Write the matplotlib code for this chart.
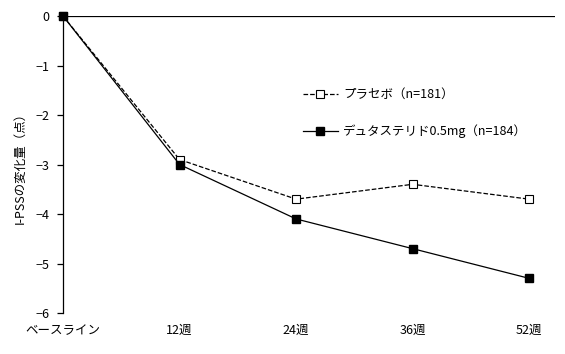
import matplotlib.pyplot as plt

plt.rcParams['font.family'] = ['Noto Sans CJK JP', 'DejaVu Sans']

# データ
timepoints = ['ベースライン', '12週', '24週', '36週', '52週']
placebo = [0, -2.9, -3.7, -3.4, -3.7]
dutasteride = [0, -3.0, -4.1, -4.7, -5.3]
placebo_label = 'プラセボ（n=181）'
duta_label = 'デュタステリド0.5mg（n=184）'
yticks = [0, -1, -2, -3, -4, -5, -6]

fig = plt.figure(figsize=(5.65, 3.54), dpi=100)
ax = fig.add_axes([0.1115, 0.1158, 0.8705, 0.839])

x = list(range(len(timepoints)))
ax.axhline(0, color='black', linewidth=0.9, zorder=1)
ax.plot(x, placebo, color='black', linestyle='--', linewidth=0.9,
        marker='s', markersize=6, markerfacecolor='white', markeredgecolor='black',
        markeredgewidth=0.8, label=placebo_label, zorder=3, clip_on=False)
ax.plot(x, dutasteride, color='black', linestyle='-', linewidth=0.9,
        marker='s', markersize=6, markerfacecolor='black', markeredgecolor='black',
        label=duta_label, zorder=4, clip_on=False)

ax.set_xlim(0, 4.22)
ax.set_ylim(-6, 0)
ax.set_yticks(yticks)
ax.set_yticklabels(['0', '−1', '−2', '−3', '−4', '−5', '−6'])
ax.set_xticks(x)
ax.set_xticklabels(timepoints)
ax.tick_params(axis='x', length=0, pad=8, labelsize=9)
ax.tick_params(axis='y', direction='out', length=4, width=0.9, labelsize=9, pad=6)

for s in ['top', 'right', 'bottom']:
    ax.spines[s].set_visible(False)
ax.spines['left'].set_linewidth(0.9)

ax.set_ylabel('I-PSSの変化量（点）', fontsize=9, labelpad=6)

ax.legend(loc='upper left', bbox_to_anchor=(0.465, 0.795), frameon=False,
          fontsize=9, handlelength=2.8, handletextpad=0.4, labelspacing=1.85)

plt.savefig('out.png', dpi=100)
